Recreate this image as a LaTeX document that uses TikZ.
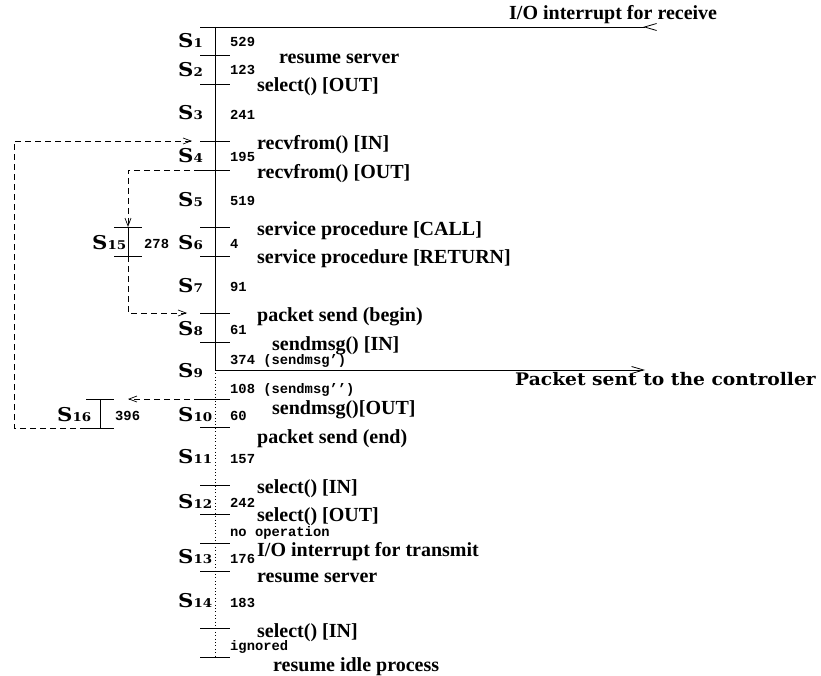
\documentclass[tikz,border=0pt]{standalone}
\usepackage{fontspec}
\usetikzlibrary{arrows.meta}
\newfontfamily\evfont{Liberation Serif Bold}
\newfontfamily\stfont{DejaVu Serif Bold}[FakeStretch=1.12]
\newfontfamily\pkfont{DejaVu Serif Bold}[FakeStretch=1.08]
\newfontfamily\cdfont{Liberation Mono Bold}
\newcommand\stname[1]{{\stfont\fontsize{19}{19}\selectfont S}{\stfont\fontsize{12}{12}\selectfont #1}}
\tikzset{
  ev/.style={anchor=base west, inner sep=0pt, font=\evfont\fontsize{20}{20}\selectfont},
  cnt/.style={anchor=base west, inner sep=0pt, font=\cdfont\fontsize{13.8}{14}\selectfont},
  stl/.style={anchor=base west, inner sep=0pt},
  tickmark/.style={line width=0.9pt},
  mainline/.style={line width=0.9pt},
  dotline/.style={line width=0.9pt, dash pattern=on 1pt off 2.4pt},
  dashconn/.style={line width=0.8pt, dash pattern=on 6pt off 4pt},
  smalltip/.style={-{Straight Barb[length=8pt,width=6pt,line width=0.7pt]}},
  bigtip/.style={-{Straight Barb[length=12pt,width=7pt,line width=0.8pt]}},
}
\begin{document}
\begin{tikzpicture}[x=1pt,y=-1pt]
\useasboundingbox (0,0) rectangle (821,676);

% time line of the server, one coordinate per event
\coordinate (m0)  at (215,27);
\coordinate (m1)  at (215,55);
\coordinate (m2)  at (215,84);
\coordinate (m3)  at (215,141);
\coordinate (m4)  at (215,170);
\coordinate (m5)  at (215,227);
\coordinate (m6)  at (215,256);
\coordinate (m7)  at (215,313);
\coordinate (m8)  at (215,342);
\coordinate (s9)  at (215,370);
\coordinate (m9)  at (215,399);
\coordinate (m10) at (215,427);
\coordinate (m11) at (215,485);
\coordinate (m12) at (215,514);
\coordinate (m13) at (215,543);
\coordinate (m14) at (215,571);
\coordinate (m15) at (215,628);
\coordinate (m16) at (215,657);
\coordinate (rx)  at (657,27);
\coordinate (tx)  at (645,370);

\draw[mainline] (m0) -- (s9);
\draw[dotline] (s9) -- (m16);
\foreach \c in {m0,m1,m2,m3,m4,m5,m6,m7,m8,m9,m10,m11,m12,m13,m14,m15,m16}
  \draw[tickmark] ([xshift=-15pt]\c) -- ([xshift=15pt]\c);

% incoming interrupt and outgoing packet
\draw[mainline,-{Straight Barb[reversed,length=12pt,width=7pt,line width=0.8pt]}] (m0) -- (rx);
\draw[mainline,bigtip] (s9) -- (tx);

% side branches S15 and S16
\coordinate (a1) at (128,227);
\coordinate (a2) at (128,256);
\coordinate (b1) at (100,399);
\coordinate (b2) at (100,428);
\coordinate (lc) at (14,141);
\draw[mainline] (a1) -- (a2);
\draw[tickmark] ([xshift=-14pt]a1) -- ([xshift=14pt]a1);
\draw[tickmark] ([xshift=-14pt]a2) -- ([xshift=14pt]a2);
\draw[mainline] (b1) -- (b2);
\draw[tickmark] ([xshift=-14pt]b1) -- ([xshift=14pt]b1);
\draw[tickmark] ([xshift=-14pt]b2) -- ([xshift=14pt]b2);

\draw[dashconn,smalltip] ([xshift=-15pt]m4) -| (a1);
\draw[dashconn,smalltip] (a2) |- ([xshift=-28pt]m7);
\draw[dashconn,smalltip] ([xshift=-15pt]m9) -- ([xshift=28pt]b1);
\draw[dashconn,smalltip] ([xshift=-14pt]b2) -| (lc) -- ([xshift=-23pt]m3);

% state names
\node[stl] (n1)  at (178,48)  {\stname{1}};
\node[stl] (n2)  at (178,77)  {\stname{2}};
\node[stl] (n3)  at (178,120) {\stname{3}};
\node[stl] (n4)  at (178,163) {\stname{4}};
\node[stl] (n5)  at (178,207) {\stname{5}};
\node[stl] (n6)  at (178,249) {\stname{6}};
\node[stl] (n7)  at (178,292) {\stname{7}};
\node[stl] (n8)  at (178,335) {\stname{8}};
\node[stl] (n9)  at (178,377) {\stname{9}};
\node[stl] (n10) at (178,421) {\stname{10}};
\node[stl] (n11) at (178,463) {\stname{11}};
\node[stl] (n12) at (178,508) {\stname{12}};
\node[stl] (n13) at (178,563) {\stname{13}};
\node[stl] (n14) at (178,607) {\stname{14}};
\node[stl] (n15) at (92,249)  {\stname{15}};
\node[stl] (n16) at (57,421)  {\stname{16}};

% durations
\node[cnt] (c1)  at (230,47)  {529};
\node[cnt] (c2)  at (230,75)  {123};
\node[cnt] (c3)  at (230,120) {241};
\node[cnt] (c4)  at (230,162) {195};
\node[cnt] (c5)  at (230,206) {519};
\node[cnt] (c6)  at (230,248) {4};
\node[cnt] (c7)  at (230,291) {91};
\node[cnt] (c8)  at (230,334) {61};
\node[cnt] (c9a) at (230,364) {374 (sendmsg\textquoteright)};
\node[cnt] (c9b) at (230,393) {108 (sendmsg\textquoteright\textquoteright)};
\node[cnt] (c10) at (230,420) {60};
\node[cnt] (c11) at (230,463) {157};
\node[cnt] (c12) at (230,507) {242};
\node[cnt] (nop) at (230,536) {no operation};
\node[cnt] (c13) at (230,563) {176};
\node[cnt] (c14) at (230,607) {183};
\node[cnt] (ign) at (230,650) {ignored};
\node[cnt] (c15) at (144,248) {278};
\node[cnt] (c16) at (115,420) {396};

% events
\node[ev] (e0)  at (509,20)  {I/O interrupt for receive};
\node[ev] (e1)  at (279,64)  {resume server};
\node[ev] (e2)  at (257,92)  {select() [OUT]};
\node[ev] (e3)  at (257,150) {recvfrom() [IN]};
\node[ev] (e4)  at (257,179) {recvfrom() [OUT]};
\node[ev] (e5)  at (257,236) {service procedure [CALL]};
\node[ev] (e6)  at (257,263) {service procedure [RETURN]};
\node[ev] (e7)  at (257,321) {packet send (begin)};
\node[ev] (e8)  at (272,350) {sendmsg() [IN]};
\node[ev] (e9)  at (272,414) {sendmsg()[OUT]};
\node[ev] (e10) at (257,443) {packet send (end)};
\node[ev] (e11) at (257,493) {select() [IN]};
\node[ev] (e12) at (257,521) {select() [OUT]};
\node[ev] (e13) at (257,556) {I/O interrupt for transmit};
\node[ev] (e14) at (257,582) {resume server};
\node[ev] (e15) at (257,637) {select() [IN]};
\node[ev] (e16) at (273,671) {resume idle process};
\node[anchor=base west, inner sep=0pt, font=\pkfont\fontsize{17.3}{18}\selectfont] (pk) at (515,385) {Packet sent to the controller};
\end{tikzpicture}
\end{document}
